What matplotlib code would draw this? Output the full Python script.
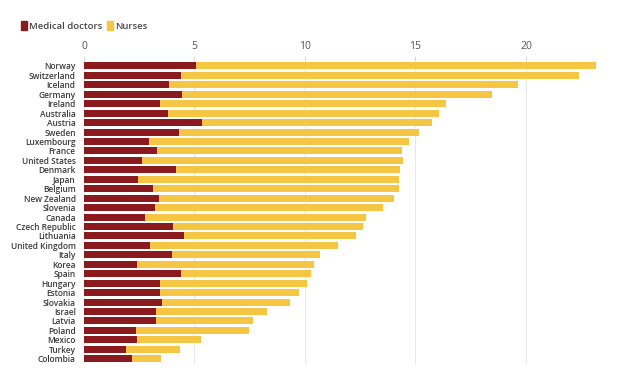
import matplotlib.pyplot as plt
from matplotlib.patches import Patch

plt.rcParams['font.family'] = ['Open Sans', 'DejaVu Sans']

# density per 1000 population
countries = ['Norway', 'Switzerland', 'Iceland', 'Germany', 'Ireland', 'Australia',
             'Austria', 'Sweden', 'Luxembourg', 'France', 'United States', 'Denmark',
             'Japan', 'Belgium', 'New Zealand', 'Slovenia', 'Canada', 'Czech Republic',
             'Lithuania', 'United Kingdom', 'Italy', 'Korea', 'Spain', 'Hungary',
             'Estonia', 'Slovakia', 'Israel', 'Latvia', 'Poland', 'Mexico', 'Turkey',
             'Colombia']
doctors = [5.07, 4.37, 3.86, 4.43, 3.44, 3.79, 5.32, 4.28, 2.94, 3.32, 2.61, 4.15,
           2.46, 3.12, 3.39, 3.23, 2.78, 4.04, 4.54, 3.00, 3.97, 2.41, 4.37, 3.45,
           3.44, 3.54, 3.26, 3.24, 2.35, 2.40, 1.91, 2.16]
nurses = [18.10, 18.01, 15.78, 14.02, 12.93, 12.26, 10.41, 10.89, 11.77, 11.08, 11.82,
          10.15, 11.79, 11.12, 10.62, 10.30, 10.00, 8.58, 7.77, 8.48, 6.71, 7.98,
          5.92, 6.66, 6.27, 5.77, 5.03, 4.42, 5.12, 2.88, 2.43, 1.34]

red = '#8b1a1e'
yellow = '#f5c544'

fig = plt.figure(figsize=(6.2, 3.68), dpi=100)
ax = fig.add_axes([0.1355, 0.0098, 0.8375, 0.8263])

y = range(len(countries))
ax.barh(y, doctors, height=0.74, color=red, zorder=3)
ax.barh(y, nurses, left=doctors, height=0.74, color=yellow, zorder=3)

ax.set_xlim(0, 23.5)
ax.set_ylim(len(countries) - 0.4, -0.6)
ax.set_yticks(list(y))
ax.set_yticklabels(countries, fontsize=6, color='#3a3a3a', fontweight='semibold')
ax.set_xticks([0, 5, 10, 15, 20])
ax.xaxis.tick_top()
ax.tick_params(axis='x', labelsize=7.5, colors='#555555', length=3, width=0.6,
               color='#cccccc', pad=3)
ax.tick_params(axis='y', length=0, pad=6)
ax.grid(axis='x', color='#e8e8e8', linewidth=0.7, zorder=0)
for s in ax.spines.values():
    s.set_visible(False)

handles = [Patch(color=red, label='Medical doctors'), Patch(color=yellow, label='Nurses')]
fig.legend(handles=handles, loc='upper left', bbox_to_anchor=(0.02, 0.965), ncol=2,
           frameon=False, prop={'size': 6.8, 'weight': 'semibold'},
           handlelength=0.6, handleheight=1.1, handletextpad=0.25,
           columnspacing=0.5, labelcolor='#444444')

fig.savefig('out.png', dpi=100)
